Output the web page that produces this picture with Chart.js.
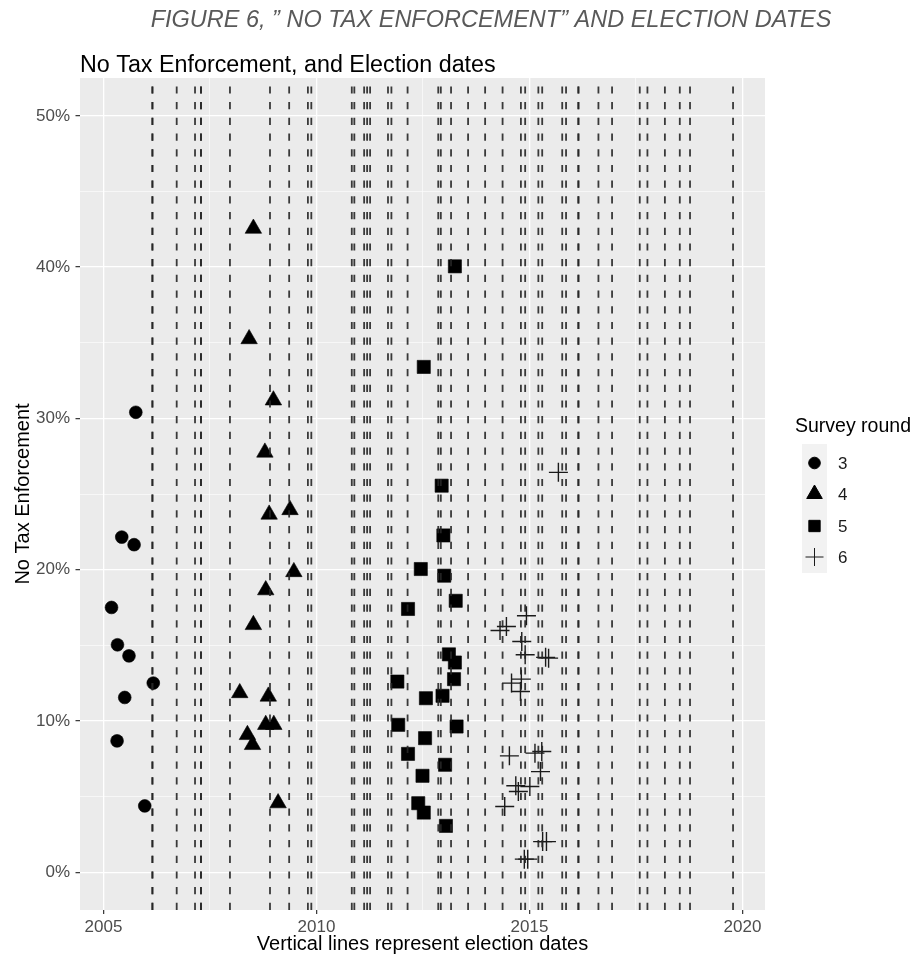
<!DOCTYPE html>
<html>
<head>
<meta charset="utf-8">
<title>No Tax Enforcement, and Election dates</title>
<script src="https://cdn.jsdelivr.net/npm/chart.js@4.4.1/dist/chart.umd.min.js"></script>
<style>
  html, body { margin: 0; padding: 0; background: #ffffff; }
  #wrap { width: 920px; height: 961px; position: relative; }
</style>
</head>
<body>
<div id="wrap"><canvas id="chart" width="920" height="961"></canvas></div>
<script>
// Election dates (decimal years), one dashed vertical line each
const electionDates = [
  2006.15, 2006.15, 2006.72, 2007.15, 2007.29, 2007.29, 2007.97, 2008.91, 2009.36,
  2009.80, 2009.88, 2010.83, 2010.89, 2011.12, 2011.19, 2011.26, 2011.68, 2011.76,
  2012.14, 2012.86, 2012.92, 2013.16, 2013.56, 2013.96, 2014.37, 2014.80, 2014.90,
  2015.21, 2015.30, 2015.77, 2015.86, 2016.15, 2016.15, 2016.62, 2016.94, 2017.59,
  2017.77, 2018.18, 2018.53, 2018.77, 2019.78
];

// Survey round 3
const round3Date  = [2005.76, 2005.43, 2005.72, 2005.19, 2005.33, 2005.60, 2006.17, 2005.50, 2005.32, 2005.97];
const round3Share = [30.4, 22.15, 21.65, 17.5, 15.03, 14.3, 12.5, 11.55, 8.68, 4.38];

// Survey round 4
const round4Date  = [2008.52, 2008.42, 2008.99, 2008.79, 2009.38, 2008.89, 2009.47, 2008.81, 2008.52, 2008.20, 2008.87, 2008.81, 2009.00, 2008.38, 2008.50, 2009.10];
const round4Share = [42.55, 35.25, 31.2, 27.75, 23.95, 23.65, 19.85, 18.65, 16.35, 11.85, 11.62, 9.75, 9.75, 9.08, 8.42, 4.57];

// Survey round 5
const round5Date  = [2013.25, 2012.52, 2012.94, 2012.98, 2012.45, 2013.00, 2013.27, 2012.15, 2013.11, 2013.25, 2011.90, 2013.23, 2012.57, 2012.96, 2011.92, 2013.29, 2012.55, 2012.15, 2013.02, 2012.49, 2012.39, 2012.52, 2013.04];
const round5Share = [40.05, 33.4, 25.55, 22.26, 20.04, 19.6, 17.94, 17.4, 14.4, 13.86, 12.6, 12.76, 11.5, 11.66, 9.74, 9.63, 8.86, 7.82, 7.1, 6.37, 4.56, 3.94, 3.06];

// Survey round 6
const round6Date  = [2015.68, 2014.93, 2014.31, 2014.46, 2014.82, 2014.90, 2015.38, 2015.45, 2014.81, 2014.58, 2014.79, 2014.53, 2015.13, 2015.29, 2015.26, 2014.68, 2014.74, 2015.01, 2014.42, 2015.31, 2015.40, 2014.88, 2014.96];
const round6Share = [26.43, 16.95, 15.98, 16.24, 15.25, 14.37, 14.2, 14.15, 12.76, 12.5, 11.94, 7.69, 7.87, 7.98, 6.65, 5.71, 5.33, 5.66, 4.34, 2.02, 2.02, 0.86, 0.86];

// Axis breaks
const xMajorTicks = [2005, 2010, 2015, 2020];
const xMinorTicks = [2007.5, 2012.5, 2017.5];
const yMajorTicks = [0, 10, 20, 30, 40, 50];
const yMinorTicks = [5, 15, 25, 35, 45];

const roundLabels = ['3', '4', '5', '6'];
const roundShapes = ['circle', 'triangle', 'rect', 'cross'];
const roundRadius = [6.4, 9.5, 9.3, 9.5];

const toPoints = (xs, ys) => xs.map((x, i) => ({ x: x, y: ys[i] }));
const roundData = [
  toPoints(round3Date, round3Share),
  toPoints(round4Date, round4Share),
  toPoints(round5Date, round5Share),
  toPoints(round6Date, round6Share)
];

const FONT = '"Liberation Sans", Arial, Helvetica, sans-serif';

const datasets = roundData.map((pts, i) => ({
  label: roundLabels[i],
  data: pts,
  pointStyle: roundShapes[i],
  pointRadius: roundRadius[i],
  pointHoverRadius: roundRadius[i],
  pointBackgroundColor: '#000000',
  pointBorderColor: roundShapes[i] === 'cross' ? '#1a1a1a' : '#000000',
  pointBorderWidth: roundShapes[i] === 'cross' ? 1.4 : 0.6,
  showLine: false
}));

const sortedTicks = arr => arr.slice().sort((a, b) => a - b).map(v => ({ value: v }));

// grey panel behind the grid
const panelPlugin = {
  id: 'panel',
  beforeDraw(chart) {
    const { ctx, chartArea: a } = chart;
    ctx.save();
    ctx.fillStyle = '#EBEBEB';
    ctx.fillRect(a.left, a.top, a.right - a.left, a.bottom - a.top);
    ctx.restore();
  }
};

// dashed vertical lines at the election dates
const electionLinesPlugin = {
  id: 'electionLines',
  afterDatasetsDraw(chart) {
    const { ctx, chartArea: a, scales: { x } } = chart;
    ctx.save();
    ctx.beginPath();
    ctx.rect(a.left, a.top, a.right - a.left, a.bottom - a.top);
    ctx.clip();
    ctx.strokeStyle = 'rgba(38,38,38,0.9)';
    ctx.lineWidth = 1.8;
    ctx.setLineDash([7.2, 8.5]);
    electionDates.forEach(d => {
      const px = x.getPixelForValue(d);
      ctx.beginPath();
      ctx.moveTo(px, a.bottom);
      ctx.lineTo(px, a.top);
      ctx.stroke();
    });
    ctx.restore();
  }
};

// headings and the shape legend
const decorPlugin = {
  id: 'decor',
  afterDraw(chart) {
    const { ctx } = chart;
    ctx.save();
    ctx.textBaseline = 'alphabetic';

    ctx.fillStyle = '#595959';
    ctx.font = 'italic 23.5px ' + FONT;
    ctx.textAlign = 'center';
    ctx.fillText('FIGURE 6, \u201D NO TAX ENFORCEMENT\u201D AND ELECTION DATES', 491, 27);

    ctx.fillStyle = '#000000';
    ctx.font = '23.3px ' + FONT;
    ctx.textAlign = 'left';
    ctx.fillText('No Tax Enforcement, and Election dates', 80, 72);

    // legend
    ctx.font = '19.5px ' + FONT;
    ctx.fillText('Survey round', 795, 432);
    ctx.fillStyle = '#F2F2F2';
    ctx.fillRect(802, 444, 25, 129);
    const keyY = [463, 494, 526, 557];
    const keyR = [5.8, 9.0, 8.0, 9.0];
    roundLabels.forEach((lab, i) => {
      ctx.fillStyle = '#000000';
      ctx.strokeStyle = i === 3 ? '#1a1a1a' : '#000000';
      Chart.helpers.drawPoint(ctx, {
        pointStyle: roundShapes[i],
        radius: keyR[i],
        rotation: 0,
        borderWidth: i === 3 ? 1.4 : 0.6
      }, 814.5, keyY[i]);
      ctx.fillStyle = '#1a1a1a';
      ctx.font = '17px ' + FONT;
      ctx.textAlign = 'left';
      ctx.textBaseline = 'middle';
      ctx.fillText(lab, 838, keyY[i] + 1);
    });
    ctx.restore();
  }
};

new Chart(document.getElementById('chart'), {
  type: 'scatter',
  data: { datasets: datasets },
  plugins: [panelPlugin, electionLinesPlugin, decorPlugin],
  options: {
    responsive: false,
    animation: false,
    devicePixelRatio: 1,
    layout: { padding: { top: 78, right: 155, bottom: 0, left: 0 } },
    plugins: {
      legend: { display: false },
      tooltip: { enabled: false },
      title: { display: false }
    },
    scales: {
      x: {
        type: 'linear',
        min: 2004.45,
        max: 2020.53,
        afterBuildTicks: s => { s.ticks = sortedTicks(xMajorTicks.concat(xMinorTicks)); },
        afterFit: s => { s.height = 51; },
        border: { display: false },
        grid: {
          color: '#FFFFFF',
          lineWidth: c => (xMajorTicks.includes(c.tick.value) ? 1.3 : 0.6),
          drawTicks: true,
          tickLength: 4,
          tickWidth: 1.2,
          tickColor: c => (xMajorTicks.includes(c.tick.value) ? '#333333' : 'rgba(0,0,0,0)')
        },
        ticks: {
          autoSkip: false,
          maxRotation: 0,
          padding: 3,
          color: '#4D4D4D',
          font: { family: FONT, size: 17 },
          callback: v => (xMajorTicks.includes(v) ? String(v) : '')
        },
        title: {
          display: true,
          text: 'Vertical lines represent election dates',
          color: '#000000',
          font: { family: FONT, size: 20 },
          padding: { top: 0, bottom: 5 }
        }
      },
      y: {
        type: 'linear',
        min: -2.5,
        max: 52.5,
        afterBuildTicks: s => { s.ticks = sortedTicks(yMajorTicks.concat(yMinorTicks)); },
        afterFit: s => { s.width = 80; },
        border: { display: false },
        grid: {
          color: '#FFFFFF',
          lineWidth: c => (yMajorTicks.includes(c.tick.value) ? 1.3 : 0.6),
          drawTicks: true,
          tickLength: 4.5,
          tickWidth: 1.2,
          tickColor: c => (yMajorTicks.includes(c.tick.value) ? '#333333' : 'rgba(0,0,0,0)')
        },
        ticks: {
          autoSkip: false,
          padding: 5.5,
          color: '#4D4D4D',
          font: { family: FONT, size: 17 },
          callback: v => (yMajorTicks.includes(v) ? v + '%' : '')
        },
        title: {
          display: true,
          text: 'No Tax Enforcement',
          color: '#000000',
          font: { family: FONT, size: 20 },
          padding: { top: 11, bottom: 0 }
        }
      }
    }
  }
});
</script>
</body>
</html>
